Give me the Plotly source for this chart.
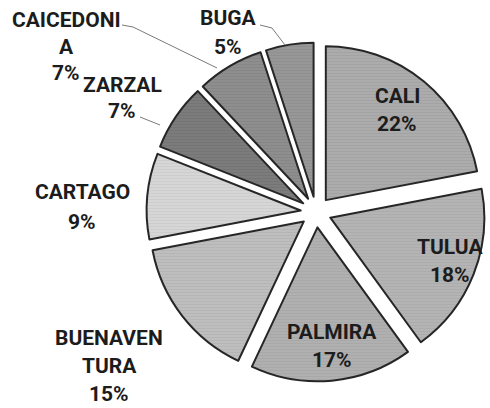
import plotly.graph_objects as go

# ---- data ----
labels = ["CALI", "TULUA", "PALMIRA", "BUENAVENTURA", "CARTAGO", "ZARZAL", "CAICEDONIA", "BUGA"]
values = [22, 18, 17, 15, 9, 7, 7, 5]
label_lines = [["CALI"], ["TULUA"], ["PALMIRA"], ["BUENAVEN", "TURA"], ["CARTAGO"],
               ["ZARZAL"], ["CAICEDONI", "A"], ["BUGA"]]

# ---- styles / layout (not data) ----
W, H = 490, 408
colors = ["#acacac", "#b4b4b4", "#b0b0b0", "#bebebe", "#d6d6d6", "#7c7c7c", "#8e8e8e", "#979797"]
stripe = ["#9a9a9a", "#a2a2a2", "#9e9e9e", "#acacac", "#c4c4c4", "#6a6a6a", "#7c7c7c", "#858585"]
# label text anchor (center x, first line center y, line spacing) in pixels
label_pos = [(397, 96, 27.5), (450, 247, 28), (332, 332, 28), (109, 338, 28),
             (82, 192, 30), (122, 85, 26), (66, 20, 26.5), (228, 18, 29)]
leaders = [[(122, 25), (133, 27), (217, 68)],
           [(140, 117), (160, 125)],
           [(260, 25), (272, 28), (285, 45)]]

def px(x):
    return x / W

def py(y):
    return 1 - y / H

fig = go.Figure(go.Pie(
    labels=labels,
    values=values,
    sort=False,
    direction="clockwise",
    rotation=0,
    pull=[0.1] * len(values),
    textinfo="none",
    hoverinfo="skip",
    marker=dict(colors=colors, line=dict(color="#262626", width=2),
                pattern=dict(shape="-", size=3, solidity=0.3, fgcolor=stripe,
                             fillmode="overlay")),
    domain=dict(x=[px(145.6), px(486.4)], y=[py(381.4), py(42.6)]),
    showlegend=False,
))

annotations = []
for lines, v, (cx, cy, sp) in zip(label_lines, values, label_pos):
    for i, t in enumerate(lines + [f"{v}%"]):
        annotations.append(dict(
            x=px(cx), y=py(cy + i * sp), xref="paper", yref="paper",
            text=t, showarrow=False, xanchor="center", yanchor="middle",
            font=dict(family="Roboto, Liberation Sans, Arial, sans-serif", size=21,
                      color="#1c1c1c", weight="bold"),
        ))

shapes = []
for pts in leaders:
    for (x0, y0), (x1, y1) in zip(pts[:-1], pts[1:]):
        shapes.append(dict(type="line", xref="paper", yref="paper",
                           x0=px(x0), y0=py(y0), x1=px(x1), y1=py(y1),
                           line=dict(color="#7a7a7a", width=1)))

fig.update_layout(
    width=W, height=H,
    margin=dict(l=0, r=0, t=0, b=0),
    paper_bgcolor="white", plot_bgcolor="white",
    annotations=annotations, shapes=shapes,
)

fig.write_html("out.html", config={"displayModeBar": False},
               post_script="document.body.style.margin='0px';document.body.style.overflow='hidden';")
